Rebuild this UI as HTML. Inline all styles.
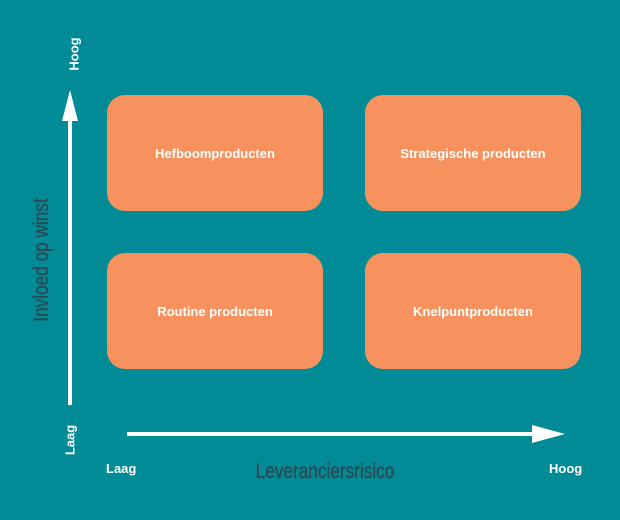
<!DOCTYPE html>
<html><head><style>
body{margin:0;width:620px;height:520px;background:#018b96;font-family:"Liberation Sans",sans-serif;overflow:hidden;position:relative}
.b{position:absolute;width:216px;height:116px;background:#f7925e;border-radius:18px;color:#fff;font-weight:bold;font-size:13px;display:flex;align-items:center;justify-content:center}
.t{position:absolute;color:#fff;font-weight:bold;font-size:13px}
</style></head><body>
<div class="b" style="left:107px;top:95px">Hefboomproducten</div>
<div class="b" style="left:365px;top:95px">Strategische producten</div>
<div class="b" style="left:107px;top:253px">Routine producten</div>
<div class="b" style="left:365px;top:253px">Knelpuntproducten</div>
<svg width="620" height="520" style="position:absolute;left:0;top:0">
<line x1="70" y1="405" x2="70" y2="112" stroke="#fff" stroke-width="4"/>
<polygon points="70,90 62,121 78,121" fill="#fff"/>
<line x1="127" y1="434" x2="535" y2="434" stroke="#fff" stroke-width="4"/>
<polygon points="565,434 532,425 532,443" fill="#fff"/>
<text x="75" y="54" fill="#fff" font-weight="bold" font-size="13" text-anchor="middle" transform="rotate(-90 75 54)" dominant-baseline="middle">Hoog</text>
<text x="71" y="440" fill="#fff" font-weight="bold" font-size="13" text-anchor="middle" transform="rotate(-90 71 440)" dominant-baseline="middle">Laag</text>
<g transform="translate(48 260) rotate(-90) scale(0.82 1)"><text x="0" y="0" fill="#2b4a55" stroke="#2b4a55" stroke-width="0.4" font-size="21" text-anchor="middle">Invloed op winst</text></g>
<g transform="translate(325 478) scale(0.82 1)"><text x="0" y="0" fill="#2b4a55" stroke="#2b4a55" stroke-width="0.4" font-size="21" text-anchor="middle">Leveranciersrisico</text></g>
</svg>
<div class="t" style="left:106px;top:461px">Laag</div>
<div class="t" style="left:549px;top:461px">Hoog</div>
</body></html>
